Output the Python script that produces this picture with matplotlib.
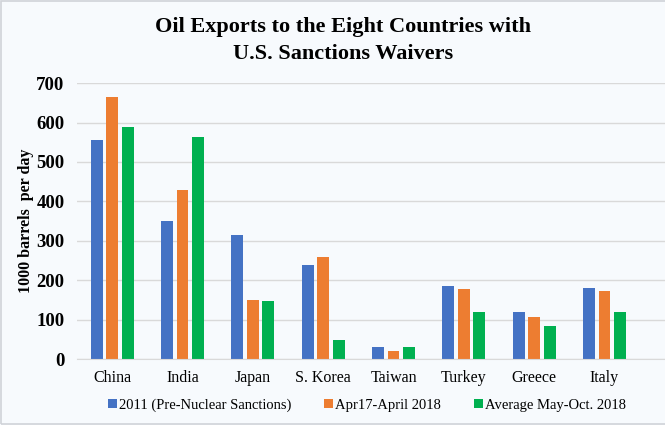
import numpy as np
import matplotlib
matplotlib.use("Agg")
import matplotlib.pyplot as plt
from matplotlib.patches import Rectangle

# values (1000 barrels per day)
countries = ['China', 'India', 'Japan', 'S. Korea', 'Taiwan', 'Turkey', 'Greece', 'Italy']
pre_sanctions_2011 = [556, 350, 315, 239, 30, 185, 119, 180]
apr17_apr18 = [665, 429, 150, 259, 20, 178, 107, 173]
avg_may_oct_2018 = [589, 564, 147, 48, 30, 119, 84, 119]

series_names = ['2011 (Pre-Nuclear Sanctions)', 'Apr17-April 2018', 'Average May-Oct. 2018']
colors = ['#4472C4', '#ED7D31', '#00B050']
y_ticks = [0, 100, 200, 300, 400, 500, 600, 700]

bg = '#F7FAFD'
plt.rcParams['font.family'] = ['Liberation Serif', 'DejaVu Serif']

fig = plt.figure(figsize=(6.65, 4.25), dpi=100, facecolor=bg)
ax = fig.add_axes([0.1158, 0.155, 0.8842, 0.6495], facecolor=bg)

x = np.arange(len(countries))
width = 0.17
step = 0.22
for i, (vals, name, c) in enumerate(zip([pre_sanctions_2011, apr17_apr18, avg_may_oct_2018],
                                        series_names, colors)):
    ax.bar(x + (i - 1) * step, vals, width, color=c, label=name, zorder=3)

ax.set_ylim(0, 700)
ax.set_xlim(-0.5, 7.86)
ax.set_yticks(y_ticks)
ax.set_yticklabels([str(t) for t in y_ticks], fontsize=13.5, fontweight='bold')
ax.set_xticks(x)
ax.set_xticklabels(countries, fontsize=11.5)
ax.tick_params(length=0)
ax.tick_params(axis='x', pad=8)
ax.tick_params(axis='y', pad=9)
ax.grid(axis='y', color='#D9D9D9', linewidth=1, zorder=0)
for s in ['top', 'right', 'left']:
    ax.spines[s].set_visible(False)
ax.spines['bottom'].set_color('#D9D9D9')
ax.spines['bottom'].set_zorder(4)

ax.set_ylabel('1000 barrels  per day', fontsize=11.5, fontweight='bold')
ax.yaxis.set_label_coords(-0.073, 0.5)

fig.text(0.516, 0.905, 'Oil Exports to the Eight Countries with\nU.S. Sanctions Waivers',
         ha='center', va='center', fontsize=16, fontweight='bold', linespacing=1.45)

fig.legend(loc='center left', bbox_to_anchor=(108 / 665, 1 - 405 / 425),
           bbox_transform=fig.transFigure, ncol=3, frameon=False,
           fontsize=10.5, handlelength=0.62, handleheight=0.62, handletextpad=0.1,
           columnspacing=2.3, borderpad=0, borderaxespad=0)

# thin grey border (left, top, bottom) like the source image
fig.add_artist(Rectangle((0.001, 0.003), 1.2, 0.995, transform=fig.transFigure,
                         fill=False, edgecolor='#D0D3D8', linewidth=1.2))

fig.savefig('out.png', dpi=100, facecolor=bg)
